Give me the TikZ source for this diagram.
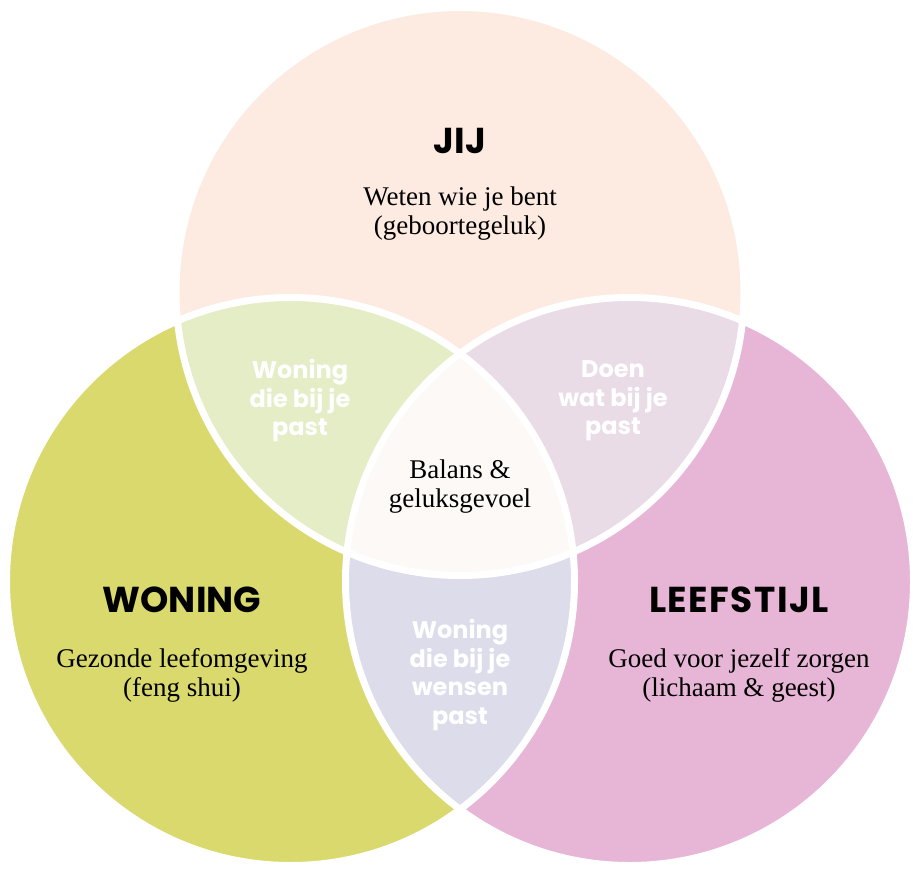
\documentclass[tikz,border=0pt]{standalone}
\usepackage{fontspec}
\setmainfont{Liberation Serif}
\newfontfamily\kopfont{Poppins}
\definecolor{jijkleur}{HTML}{FDEBE2}
\definecolor{woningkleur}{HTML}{D9D96E}
\definecolor{leefkleur}{HTML}{E7B5D5}
\definecolor{jijwoning}{HTML}{E5EDC7}
\definecolor{jijleef}{HTML}{E9DCE7}
\definecolor{woningleef}{HTML}{DCDCEB}
\definecolor{midden}{HTML}{FDF9F6}
\begin{document}
\begin{tikzpicture}[x=1pt, y=-1pt,
		titel/.style={font=\kopfont\bfseries\fontsize{36}{40}\selectfont},
		uitleg/.style={font=\fontsize{27}{29}\selectfont, align=center},
		overlap/.style={font=\kopfont\bfseries\fontsize{24}{28.5}\selectfont, text=white, align=center},
		rand/.style={draw=white, line width=7pt}]
		\useasboundingbox (0,0) rectangle (920,872);
		\fill[white] (0,0) rectangle (920,872);
		\coordinate (J) at (460,291.5);
		\coordinate (W) at (290.5,581.5);
		\coordinate (L) at (629.5,581.5);
		\fill[jijkleur] (J) circle (284pt);
		\fill[woningkleur] (W) circle (284pt);
		\fill[leefkleur] (L) circle (284pt);
		\begin{scope}
			\clip (J) circle (284pt);
			\fill[jijwoning] (W) circle (284pt);
			\fill[jijleef] (L) circle (284pt);
		\end{scope}
		\begin{scope}
			\clip (W) circle (284pt);
			\fill[woningleef] (L) circle (284pt);
		\end{scope}
		\begin{scope}
			\clip (J) circle (284pt);
			\clip (W) circle (284pt);
			\fill[midden] (L) circle (284pt);
		\end{scope}
		\draw[rand] (J) circle (284pt);
		\draw[rand] (W) circle (284pt);
		\draw[rand] (L) circle (284pt);
		% teksten
		\node[titel] (jij) at (460,141) {JIJ};
		\node[uitleg] (jijtekst) at (460,214) {Weten wie je bent\\(geboortegeluk)};
		\node[titel] (woning) at (182,600) {WONING};
		\node[uitleg] (woningtekst) at (182,675) {Gezonde leefomgeving\\(feng shui)};
		\node[titel, font=\kopfont\bfseries\fontsize{36}{40}\selectfont\addfontfeature{LetterSpace=4}] (leefstijl) at (739,600) {LEEFSTIJL};
		\node[uitleg] (leeftekst) at (739,675) {Goed voor jezelf zorgen\\(lichaam \& geest)};
		\node[overlap] (jw) at (300,401) {Woning\\die bij je\\past};
		\node[overlap] (jl) at (613,401) {Doen\\wat bij je\\past};
		\node[overlap] (wl) at (460,675) {Woning\\die bij je\\wensen\\past};
		\node[uitleg] (balans) at (460,487) {Balans \&\\geluksgevoel};
	\end{tikzpicture}
\end{document}
